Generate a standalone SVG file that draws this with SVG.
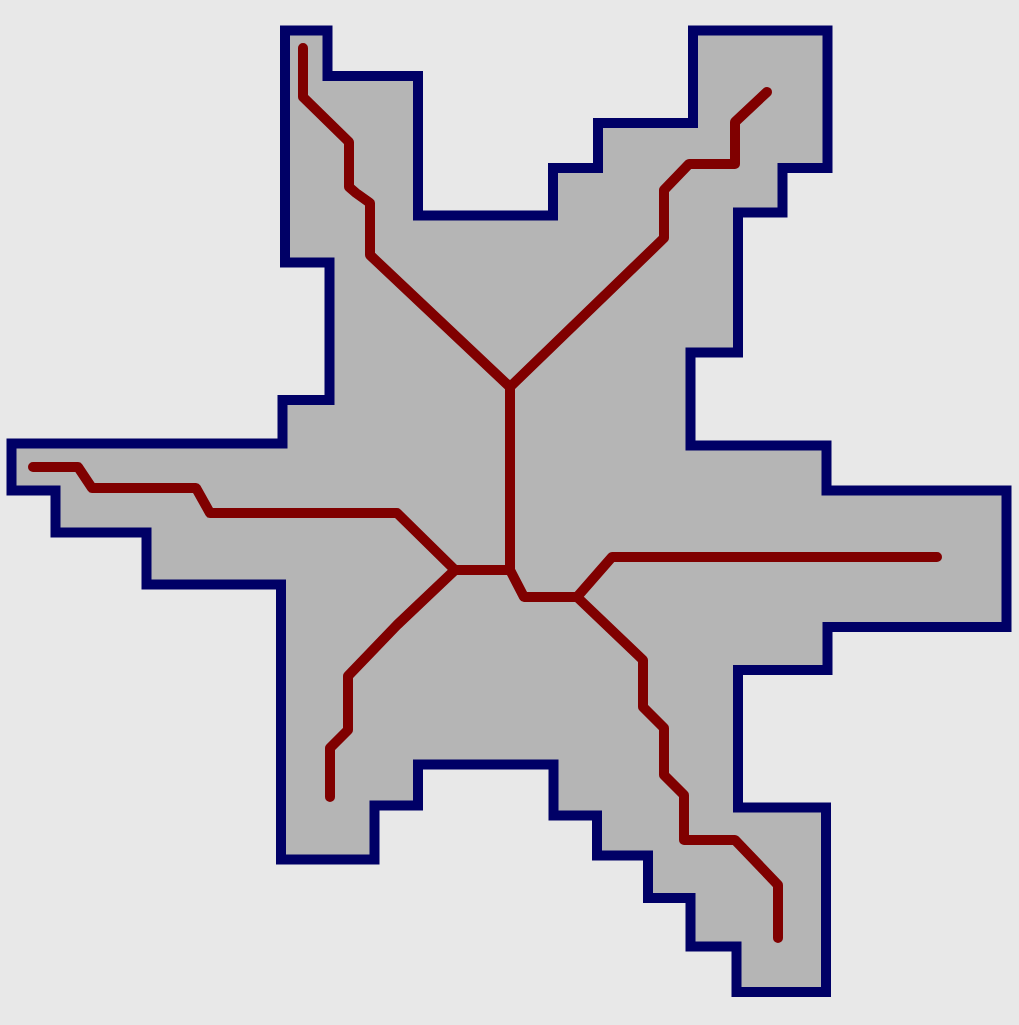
<svg xmlns="http://www.w3.org/2000/svg" width="1019" height="1025" viewBox="0 0 1019 1025">
<style>
.shape{fill:#b5b5b5;stroke:#000066;stroke-width:10;stroke-linejoin:miter}
.skel{fill:none;stroke:#800000;stroke-width:10;stroke-linejoin:round;stroke-linecap:round}
</style>
<rect x="0" y="0" width="1019" height="1025" fill="#e8e8e8"/>
<g id="polygon">
<polygon class="shape" points="285,30.5 327.5,30.5 327.5,76 418,76 418,215.5 553,215.5 553,168 598,168 598,123 693,123 693,30.5 827.5,30.5 827.5,168 782.5,168 782.5,212.5 738,212.5 738,352.5 690.5,352.5 690.5,445.5 826.5,445.5 826.5,490.5 1006.5,490.5 1006.5,627 827.5,627 827.5,670 738,670 738,807.5 826,807.5 826,992 736.5,992 736.5,946.5 690.5,946.5 690.5,898 648,898 648,855.5 597,855.5 597,815.5 553.5,815.5 553.5,764.5 418,764.5 418,805.5 374.5,805.5 374.5,859.5 281,859.5 281,584.5 146.5,584.5 146.5,532.5 55.5,532.5 55.5,490.5 11.5,490.5 11.5,443.5 282.5,443.5 282.5,400 329.5,400 329.5,262.5 285,262.5"/>
</g>
<g id="skeleton">
<polyline class="skel" points="303,48 303,97 349,142 349,187 356,193 370,203 370,255 510,387"/>
<polyline class="skel" points="510,387 664,238 664,190 689,164 735,164 735,122 767,92"/>
<polyline class="skel" points="510,387 510,570 455,570"/>
<polyline class="skel" points="33,467 78,467 92,488 196,488 210,513 397,513 455,570"/>
<polyline class="skel" points="455,570 397,625 348,676 348,730 330,748 330,797"/>
<polyline class="skel" points="510,570 524,597 577,597 612,557 937,557"/>
<polyline class="skel" points="577,597 643,660 643,707 664,728 664,775 684,795 684,840 735,840 778,885 778,938"/>
</g>
</svg>
